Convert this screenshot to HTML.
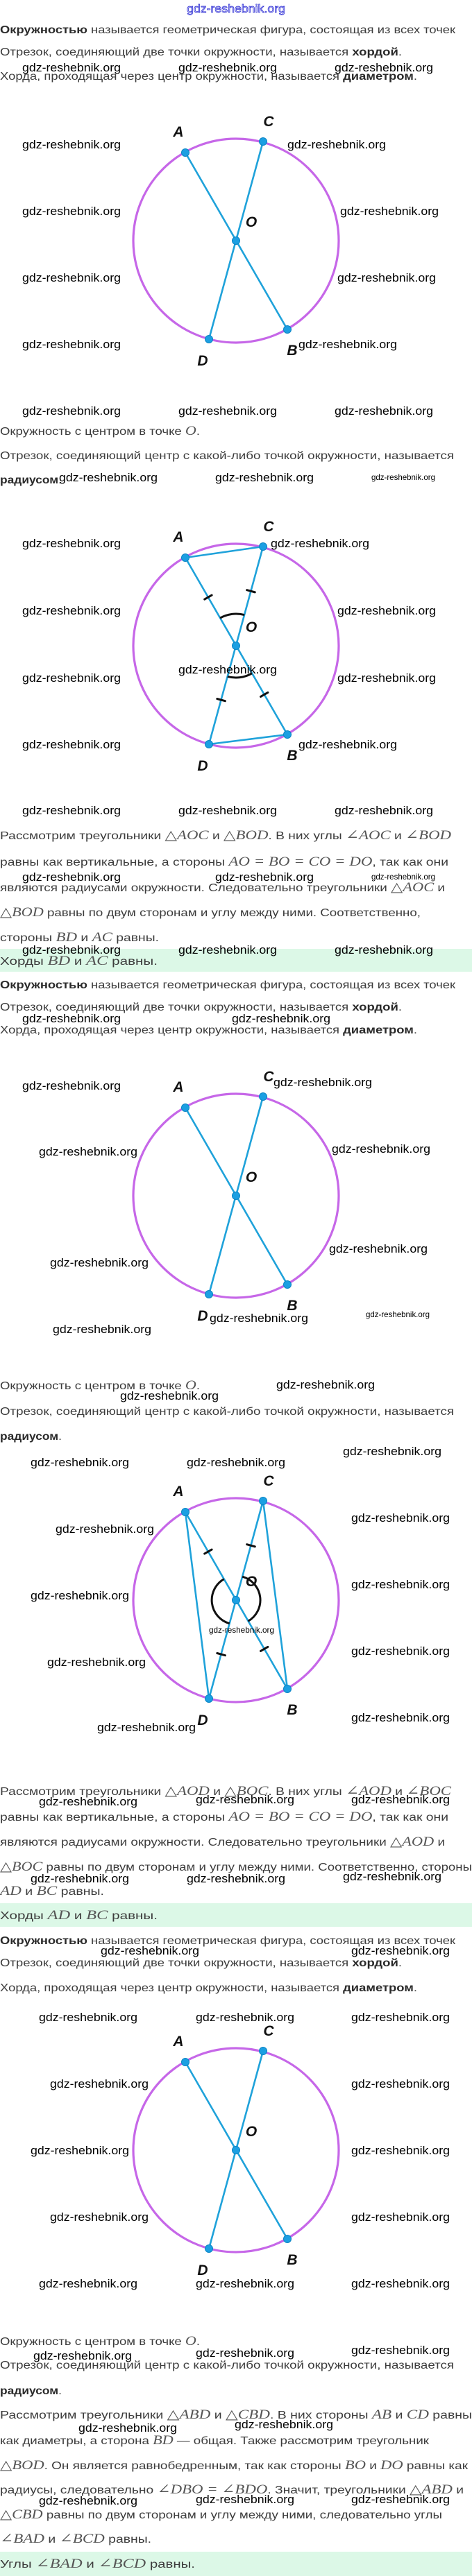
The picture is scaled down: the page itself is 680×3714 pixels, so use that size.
<!DOCTYPE html>
<html><head><meta charset="utf-8"><style>
html,body{margin:0;padding:0;background:#fff;}
svg{display:block;}
.t{font-family:"Liberation Sans","DejaVu Sans",sans-serif;font-size:16px;fill:#3c3c3c;}
.b{font-weight:bold;fill:#2a2a2a;}
.m{font-family:"Liberation Serif","DejaVu Serif",serif;font-style:italic;font-size:19px;fill:#555;}
.w{font-family:"Liberation Sans",sans-serif;font-size:17px;fill:#000;}
.ws{font-family:"Liberation Sans",sans-serif;font-size:12px;fill:#000;}
.lb{font-family:"Liberation Sans",sans-serif;font-weight:bold;font-style:italic;font-size:21px;fill:#111;}
.circ{fill:none;stroke:#c667e8;stroke-width:3.2;}
.ln{stroke:#1fa2da;stroke-width:2.6;stroke-linecap:round;}
.pt{fill:#1b9fe2;stroke:#0b84c4;stroke-width:1;}
.tk{stroke:#111;stroke-width:3;stroke-linecap:round;}
.arc{fill:none;stroke:#111;stroke-width:3;}
</style></head><body>
<svg width="680" height="3714" viewBox="0 0 680 3714" xmlns="http://www.w3.org/2000/svg">
<defs>
<g id="tick"><line class="tk" x1="-6" y1="0" x2="6" y2="0"/></g>
<g id="base">
<ellipse class="circ" cx="340" cy="0" rx="148" ry="147"/>
</g>
<g id="labels">
<text class="lb" x="257" y="-150" text-anchor="middle">A</text>
<text class="lb" x="387" y="-165" text-anchor="middle">C</text>
<text class="lb" x="362" y="-20" text-anchor="middle">O</text>
<text class="lb" x="292" y="180" text-anchor="middle">D</text>
<text class="lb" x="421" y="165" text-anchor="middle">B</text>
</g>
<g id="pts">
<circle class="pt" cx="267" cy="-127" r="5.5"/>
<circle class="pt" cx="379" cy="-143" r="5.5"/>
<circle class="pt" cx="340" cy="0" r="5.5"/>
<circle class="pt" cx="301" cy="142" r="5.5"/>
<circle class="pt" cx="414" cy="128" r="5.5"/>
</g>
<g id="diams">
<line class="ln" x1="267" y1="-127" x2="414" y2="128"/>
<line class="ln" x1="379" y1="-143" x2="301" y2="142"/>
</g>
<g id="ticks">
<use href="#tick" transform="translate(299.9,-69.9) rotate(-29.9)"/>
<use href="#tick" transform="translate(361.5,-78.7) rotate(15.3)"/>
<use href="#tick" transform="translate(318.6,78.1) rotate(15.4)"/>
<use href="#tick" transform="translate(380.7,70.4) rotate(-30)"/>
</g>
</defs>

<!-- header -->
<text x="340" y="18" text-anchor="middle" font-family="Liberation Sans,sans-serif" font-size="17" fill="#d8d8ff" stroke="#2828d0" stroke-width="0.7" textLength="142" lengthAdjust="spacingAndGlyphs">gdz-reshebnik.org</text>

<!-- SECTION 1 -->
<text class="t" x="0" y="48" textLength="656" lengthAdjust="spacingAndGlyphs"><tspan class="b">Окружностью</tspan> называется геометрическая фигура, состоящая из всех точек</text>
<text class="t" x="0" y="80" textLength="579" lengthAdjust="spacingAndGlyphs">Отрезок, соединяющий две точки окружности, называется <tspan class="b">хордой</tspan>.</text>
<text class="t" x="0" y="115" textLength="601" lengthAdjust="spacingAndGlyphs">Хорда, проходящая через центр окружности, называется <tspan class="b">диаметром</tspan>.</text>

<g transform="translate(0,347)">
<use href="#base"/><use href="#diams"/><use href="#pts"/><use href="#labels"/>
</g>

<text class="t" x="0" y="627" textLength="288" lengthAdjust="spacingAndGlyphs">Окружность с центром в точке <tspan class="m">O</tspan>.</text>
<text class="t" x="0" y="662" textLength="654" lengthAdjust="spacingAndGlyphs">Отрезок, соединяющий центр с какой-либо точкой окружности, называется</text>
<text class="t" x="0" y="697" textLength="89" lengthAdjust="spacingAndGlyphs"><tspan class="b">радиусом</tspan>.</text>

<g transform="translate(0,931)">
<use href="#base"/>
<line class="ln" x1="267" y1="-127" x2="379" y2="-143"/>
<line class="ln" x1="301" y1="142" x2="414" y2="128"/>
<use href="#diams"/><use href="#ticks"/>
<path class="arc" d="M317.1,-39.9 A46,46 0 0 1 352.1,-44.4"/>
<path class="arc" d="M363,39.8 A46,46 0 0 1 327.8,44.4"/>
<use href="#pts"/><use href="#labels"/>
</g>

<text class="t" x="0" y="1210" textLength="650" lengthAdjust="spacingAndGlyphs">Рассмотрим треугольники <tspan class="m">△AOC</tspan> и <tspan class="m">△BOD</tspan>. В них углы <tspan class="m">∠AOC</tspan> и <tspan class="m">∠BOD</tspan></text>
<text class="t" x="0" y="1248" textLength="646" lengthAdjust="spacingAndGlyphs">равны как вертикальные, а стороны <tspan class="m">AO = BO = CO = DO</tspan>, так как они</text>
<text class="t" x="0" y="1285" textLength="641" lengthAdjust="spacingAndGlyphs">являются радиусами окружности. Следовательно треугольники <tspan class="m">△AOC</tspan> и</text>
<text class="t" x="0" y="1321" textLength="606" lengthAdjust="spacingAndGlyphs"><tspan class="m">△BOD</tspan> равны по двум сторонам и углу между ними. Соответственно,</text>
<text class="t" x="0" y="1357" textLength="229" lengthAdjust="spacingAndGlyphs">стороны <tspan class="m">BD</tspan> и <tspan class="m">AC</tspan> равны.</text>
<rect x="0" y="1368" width="680" height="33" fill="#dcf8e7"/>
<text class="t" x="0" y="1391" textLength="227" lengthAdjust="spacingAndGlyphs">Хорды <tspan class="m">BD</tspan> и <tspan class="m">AC</tspan> равны.</text>

<!-- SECTION 2 -->
<text class="t" x="0" y="1425" textLength="656" lengthAdjust="spacingAndGlyphs"><tspan class="b">Окружностью</tspan> называется геометрическая фигура, состоящая из всех точек</text>
<text class="t" x="0" y="1457" textLength="579" lengthAdjust="spacingAndGlyphs">Отрезок, соединяющий две точки окружности, называется <tspan class="b">хордой</tspan>.</text>
<text class="t" x="0" y="1490" textLength="601" lengthAdjust="spacingAndGlyphs">Хорда, проходящая через центр окружности, называется <tspan class="b">диаметром</tspan>.</text>

<g transform="translate(0,1724)">
<use href="#base"/><use href="#diams"/><use href="#pts"/><use href="#labels"/>
</g>

<text class="t" x="0" y="2003" textLength="288" lengthAdjust="spacingAndGlyphs">Окружность с центром в точке <tspan class="m">O</tspan>.</text>
<text class="t" x="0" y="2040" textLength="654" lengthAdjust="spacingAndGlyphs">Отрезок, соединяющий центр с какой-либо точкой окружности, называется</text>
<text class="t" x="0" y="2076" textLength="89" lengthAdjust="spacingAndGlyphs"><tspan class="b">радиусом</tspan>.</text>

<g transform="translate(0,2307)">
<use href="#base"/>
<line class="ln" x1="267" y1="-127" x2="301" y2="142"/>
<line class="ln" x1="379" y1="-143" x2="414" y2="128"/>
<use href="#diams"/><use href="#ticks"/>
<path class="arc" d="M322.6,-30.3 A35,35 0 0 0 330.7,33.7"/>
<path class="arc" d="M349.2,-33.8 A35,35 0 0 1 357.5,30.3"/>
<use href="#pts"/><use href="#labels"/>
</g>

<text class="t" x="0" y="2588" textLength="650" lengthAdjust="spacingAndGlyphs">Рассмотрим треугольники <tspan class="m">△AOD</tspan> и <tspan class="m">△BOC</tspan>. В них углы <tspan class="m">∠AOD</tspan> и <tspan class="m">∠BOC</tspan></text>
<text class="t" x="0" y="2625" textLength="646" lengthAdjust="spacingAndGlyphs">равны как вертикальные, а стороны <tspan class="m">AO = BO = CO = DO</tspan>, так как они</text>
<text class="t" x="0" y="2661" textLength="641" lengthAdjust="spacingAndGlyphs">являются радиусами окружности. Следовательно треугольники <tspan class="m">△AOD</tspan> и</text>
<text class="t" x="0" y="2697" textLength="680" lengthAdjust="spacingAndGlyphs"><tspan class="m">△BOC</tspan> равны по двум сторонам и углу между ними. Соответственно, стороны</text>
<text class="t" x="0" y="2732" textLength="150" lengthAdjust="spacingAndGlyphs"><tspan class="m">AD</tspan> и <tspan class="m">BC</tspan> равны.</text>
<rect x="0" y="2744" width="680" height="34" fill="#dcf8e7"/>
<text class="t" x="0" y="2767" textLength="227" lengthAdjust="spacingAndGlyphs">Хорды <tspan class="m">AD</tspan> и <tspan class="m">BC</tspan> равны.</text>

<!-- SECTION 3 -->
<text class="t" x="0" y="2803" textLength="656" lengthAdjust="spacingAndGlyphs"><tspan class="b">Окружностью</tspan> называется геометрическая фигура, состоящая из всех точек</text>
<text class="t" x="0" y="2835" textLength="579" lengthAdjust="spacingAndGlyphs">Отрезок, соединяющий две точки окружности, называется <tspan class="b">хордой</tspan>.</text>
<text class="t" x="0" y="2871" textLength="601" lengthAdjust="spacingAndGlyphs">Хорда, проходящая через центр окружности, называется <tspan class="b">диаметром</tspan>.</text>

<g transform="translate(0,3100)">
<use href="#base"/><use href="#diams"/><use href="#pts"/><use href="#labels"/>
</g>

<text class="t" x="0" y="3381" textLength="288" lengthAdjust="spacingAndGlyphs">Окружность с центром в точке <tspan class="m">O</tspan>.</text>
<text class="t" x="0" y="3415" textLength="654" lengthAdjust="spacingAndGlyphs">Отрезок, соединяющий центр с какой-либо точкой окружности, называется</text>
<text class="t" x="0" y="3452" textLength="89" lengthAdjust="spacingAndGlyphs"><tspan class="b">радиусом</tspan>.</text>
<text class="t" x="0" y="3487" textLength="680" lengthAdjust="spacingAndGlyphs">Рассмотрим треугольники <tspan class="m">△ABD</tspan> и <tspan class="m">△CBD</tspan>. В них стороны <tspan class="m">AB</tspan> и <tspan class="m">CD</tspan> равны</text>
<text class="t" x="0" y="3524" textLength="618" lengthAdjust="spacingAndGlyphs">как диаметры, а сторона <tspan class="m">BD</tspan> — общая. Также рассмотрим треугольник</text>
<text class="t" x="0" y="3560" textLength="674" lengthAdjust="spacingAndGlyphs"><tspan class="m">△BOD</tspan>. Он является равнобедренным, так как стороны <tspan class="m">BO</tspan> и <tspan class="m">DO</tspan> равны как</text>
<text class="t" x="0" y="3595" textLength="668" lengthAdjust="spacingAndGlyphs">радиусы, следовательно <tspan class="m">∠DBO = ∠BDO</tspan>. Значит, треугольники <tspan class="m">△ABD</tspan> и</text>
<text class="t" x="0" y="3631" textLength="637" lengthAdjust="spacingAndGlyphs"><tspan class="m">△CBD</tspan> равны по двум сторонам и углу между ними, следовательно углы</text>
<text class="t" x="0" y="3666" textLength="218" lengthAdjust="spacingAndGlyphs"><tspan class="m">∠BAD</tspan> и <tspan class="m">∠BCD</tspan> равны.</text>
<rect x="0" y="3679" width="680" height="35" fill="#dcf8e7"/>
<text class="t" x="0" y="3702" textLength="281" lengthAdjust="spacingAndGlyphs">Углы <tspan class="m">∠BAD</tspan> и <tspan class="m">∠BCD</tspan> равны.</text>

<!-- watermarks -->
<g>
<text class="w" x="32" y="103" textLength="142" lengthAdjust="spacingAndGlyphs">gdz-reshebnik.org</text>
<text class="w" x="257" y="103" textLength="142" lengthAdjust="spacingAndGlyphs">gdz-reshebnik.org</text>
<text class="w" x="482" y="103" textLength="142" lengthAdjust="spacingAndGlyphs">gdz-reshebnik.org</text>
<text class="w" x="32" y="214" textLength="142" lengthAdjust="spacingAndGlyphs">gdz-reshebnik.org</text>
<text class="w" x="414" y="214" textLength="142" lengthAdjust="spacingAndGlyphs">gdz-reshebnik.org</text>
<text class="w" x="32" y="310" textLength="142" lengthAdjust="spacingAndGlyphs">gdz-reshebnik.org</text>
<text class="w" x="490" y="310" textLength="142" lengthAdjust="spacingAndGlyphs">gdz-reshebnik.org</text>
<text class="w" x="32" y="406" textLength="142" lengthAdjust="spacingAndGlyphs">gdz-reshebnik.org</text>
<text class="w" x="486" y="406" textLength="142" lengthAdjust="spacingAndGlyphs">gdz-reshebnik.org</text>
<text class="w" x="32" y="502" textLength="142" lengthAdjust="spacingAndGlyphs">gdz-reshebnik.org</text>
<text class="w" x="430" y="502" textLength="142" lengthAdjust="spacingAndGlyphs">gdz-reshebnik.org</text>
<text class="w" x="32" y="598" textLength="142" lengthAdjust="spacingAndGlyphs">gdz-reshebnik.org</text>
<text class="w" x="257" y="598" textLength="142" lengthAdjust="spacingAndGlyphs">gdz-reshebnik.org</text>
<text class="w" x="482" y="598" textLength="142" lengthAdjust="spacingAndGlyphs">gdz-reshebnik.org</text>
<text class="w" x="85" y="694" textLength="142" lengthAdjust="spacingAndGlyphs">gdz-reshebnik.org</text>
<text class="w" x="310" y="694" textLength="142" lengthAdjust="spacingAndGlyphs">gdz-reshebnik.org</text>
<text class="ws" x="535" y="692" textLength="92" lengthAdjust="spacingAndGlyphs">gdz-reshebnik.org</text>
<text class="w" x="32" y="789" textLength="142" lengthAdjust="spacingAndGlyphs">gdz-reshebnik.org</text>
<text class="w" x="390" y="789" textLength="142" lengthAdjust="spacingAndGlyphs">gdz-reshebnik.org</text>
<text class="w" x="32" y="886" textLength="142" lengthAdjust="spacingAndGlyphs">gdz-reshebnik.org</text>
<text class="w" x="486" y="886" textLength="142" lengthAdjust="spacingAndGlyphs">gdz-reshebnik.org</text>
<text class="w" x="257" y="971" textLength="142" lengthAdjust="spacingAndGlyphs">gdz-reshebnik.org</text>
<text class="w" x="32" y="983" textLength="142" lengthAdjust="spacingAndGlyphs">gdz-reshebnik.org</text>
<text class="w" x="486" y="983" textLength="142" lengthAdjust="spacingAndGlyphs">gdz-reshebnik.org</text>
<text class="w" x="32" y="1079" textLength="142" lengthAdjust="spacingAndGlyphs">gdz-reshebnik.org</text>
<text class="w" x="430" y="1079" textLength="142" lengthAdjust="spacingAndGlyphs">gdz-reshebnik.org</text>
<text class="w" x="32" y="1174" textLength="142" lengthAdjust="spacingAndGlyphs">gdz-reshebnik.org</text>
<text class="w" x="257" y="1174" textLength="142" lengthAdjust="spacingAndGlyphs">gdz-reshebnik.org</text>
<text class="w" x="482" y="1174" textLength="142" lengthAdjust="spacingAndGlyphs">gdz-reshebnik.org</text>
<text class="w" x="32" y="1270" textLength="142" lengthAdjust="spacingAndGlyphs">gdz-reshebnik.org</text>
<text class="w" x="310" y="1270" textLength="142" lengthAdjust="spacingAndGlyphs">gdz-reshebnik.org</text>
<text class="ws" x="535" y="1268" textLength="92" lengthAdjust="spacingAndGlyphs">gdz-reshebnik.org</text>
<text class="w" x="32" y="1375" textLength="142" lengthAdjust="spacingAndGlyphs">gdz-reshebnik.org</text>
<text class="w" x="257" y="1375" textLength="142" lengthAdjust="spacingAndGlyphs">gdz-reshebnik.org</text>
<text class="w" x="482" y="1375" textLength="142" lengthAdjust="spacingAndGlyphs">gdz-reshebnik.org</text>
<text class="w" x="32" y="1474" textLength="142" lengthAdjust="spacingAndGlyphs">gdz-reshebnik.org</text>
<text class="w" x="334" y="1474" textLength="142" lengthAdjust="spacingAndGlyphs">gdz-reshebnik.org</text>
<text class="w" x="32" y="1571" textLength="142" lengthAdjust="spacingAndGlyphs">gdz-reshebnik.org</text>
<text class="w" x="394" y="1566" textLength="142" lengthAdjust="spacingAndGlyphs">gdz-reshebnik.org</text>
<text class="w" x="56" y="1666" textLength="142" lengthAdjust="spacingAndGlyphs">gdz-reshebnik.org</text>
<text class="w" x="478" y="1662" textLength="142" lengthAdjust="spacingAndGlyphs">gdz-reshebnik.org</text>
<text class="w" x="72" y="1826" textLength="142" lengthAdjust="spacingAndGlyphs">gdz-reshebnik.org</text>
<text class="w" x="474" y="1806" textLength="142" lengthAdjust="spacingAndGlyphs">gdz-reshebnik.org</text>
<text class="w" x="302" y="1906" textLength="142" lengthAdjust="spacingAndGlyphs">gdz-reshebnik.org</text>
<text class="ws" x="527" y="1899" textLength="92" lengthAdjust="spacingAndGlyphs">gdz-reshebnik.org</text>
<text class="w" x="76" y="1922" textLength="142" lengthAdjust="spacingAndGlyphs">gdz-reshebnik.org</text>
<text class="w" x="398" y="2002" textLength="142" lengthAdjust="spacingAndGlyphs">gdz-reshebnik.org</text>
<text class="w" x="173" y="2018" textLength="142" lengthAdjust="spacingAndGlyphs">gdz-reshebnik.org</text>
<text class="w" x="494" y="2098" textLength="142" lengthAdjust="spacingAndGlyphs">gdz-reshebnik.org</text>
<text class="w" x="44" y="2114" textLength="142" lengthAdjust="spacingAndGlyphs">gdz-reshebnik.org</text>
<text class="w" x="269" y="2114" textLength="142" lengthAdjust="spacingAndGlyphs">gdz-reshebnik.org</text>
<text class="w" x="506" y="2194" textLength="142" lengthAdjust="spacingAndGlyphs">gdz-reshebnik.org</text>
<text class="w" x="80" y="2210" textLength="142" lengthAdjust="spacingAndGlyphs">gdz-reshebnik.org</text>
<text class="w" x="44" y="2306" textLength="142" lengthAdjust="spacingAndGlyphs">gdz-reshebnik.org</text>
<text class="w" x="506" y="2290" textLength="142" lengthAdjust="spacingAndGlyphs">gdz-reshebnik.org</text>
<text class="ws" x="301" y="2354" textLength="94" lengthAdjust="spacingAndGlyphs">gdz-reshebnik.org</text>
<text class="w" x="68" y="2402" textLength="142" lengthAdjust="spacingAndGlyphs">gdz-reshebnik.org</text>
<text class="w" x="506" y="2386" textLength="142" lengthAdjust="spacingAndGlyphs">gdz-reshebnik.org</text>
<text class="w" x="506" y="2482" textLength="142" lengthAdjust="spacingAndGlyphs">gdz-reshebnik.org</text>
<text class="w" x="140" y="2496" textLength="142" lengthAdjust="spacingAndGlyphs">gdz-reshebnik.org</text>
<text class="w" x="56" y="2603" textLength="142" lengthAdjust="spacingAndGlyphs">gdz-reshebnik.org</text>
<text class="w" x="282" y="2600" textLength="142" lengthAdjust="spacingAndGlyphs">gdz-reshebnik.org</text>
<text class="w" x="506" y="2600" textLength="142" lengthAdjust="spacingAndGlyphs">gdz-reshebnik.org</text>
<text class="w" x="44" y="2714" textLength="142" lengthAdjust="spacingAndGlyphs">gdz-reshebnik.org</text>
<text class="w" x="269" y="2714" textLength="142" lengthAdjust="spacingAndGlyphs">gdz-reshebnik.org</text>
<text class="w" x="494" y="2711" textLength="142" lengthAdjust="spacingAndGlyphs">gdz-reshebnik.org</text>
<text class="w" x="145" y="2818" textLength="142" lengthAdjust="spacingAndGlyphs">gdz-reshebnik.org</text>
<text class="w" x="506" y="2818" textLength="142" lengthAdjust="spacingAndGlyphs">gdz-reshebnik.org</text>
<text class="w" x="56" y="2914" textLength="142" lengthAdjust="spacingAndGlyphs">gdz-reshebnik.org</text>
<text class="w" x="282" y="2914" textLength="142" lengthAdjust="spacingAndGlyphs">gdz-reshebnik.org</text>
<text class="w" x="506" y="2914" textLength="142" lengthAdjust="spacingAndGlyphs">gdz-reshebnik.org</text>
<text class="w" x="72" y="3010" textLength="142" lengthAdjust="spacingAndGlyphs">gdz-reshebnik.org</text>
<text class="w" x="506" y="3010" textLength="142" lengthAdjust="spacingAndGlyphs">gdz-reshebnik.org</text>
<text class="w" x="44" y="3106" textLength="142" lengthAdjust="spacingAndGlyphs">gdz-reshebnik.org</text>
<text class="w" x="506" y="3106" textLength="142" lengthAdjust="spacingAndGlyphs">gdz-reshebnik.org</text>
<text class="w" x="72" y="3202" textLength="142" lengthAdjust="spacingAndGlyphs">gdz-reshebnik.org</text>
<text class="w" x="506" y="3202" textLength="142" lengthAdjust="spacingAndGlyphs">gdz-reshebnik.org</text>
<text class="w" x="56" y="3298" textLength="142" lengthAdjust="spacingAndGlyphs">gdz-reshebnik.org</text>
<text class="w" x="282" y="3298" textLength="142" lengthAdjust="spacingAndGlyphs">gdz-reshebnik.org</text>
<text class="w" x="506" y="3298" textLength="142" lengthAdjust="spacingAndGlyphs">gdz-reshebnik.org</text>
<text class="w" x="48" y="3402" textLength="142" lengthAdjust="spacingAndGlyphs">gdz-reshebnik.org</text>
<text class="w" x="282" y="3398" textLength="142" lengthAdjust="spacingAndGlyphs">gdz-reshebnik.org</text>
<text class="w" x="506" y="3394" textLength="142" lengthAdjust="spacingAndGlyphs">gdz-reshebnik.org</text>
<text class="w" x="113" y="3506" textLength="142" lengthAdjust="spacingAndGlyphs">gdz-reshebnik.org</text>
<text class="w" x="338" y="3501" textLength="142" lengthAdjust="spacingAndGlyphs">gdz-reshebnik.org</text>
<text class="w" x="56" y="3611" textLength="142" lengthAdjust="spacingAndGlyphs">gdz-reshebnik.org</text>
<text class="w" x="282" y="3609" textLength="142" lengthAdjust="spacingAndGlyphs">gdz-reshebnik.org</text>
<text class="w" x="506" y="3609" textLength="142" lengthAdjust="spacingAndGlyphs">gdz-reshebnik.org</text>
</g>
</svg>
</body></html>
